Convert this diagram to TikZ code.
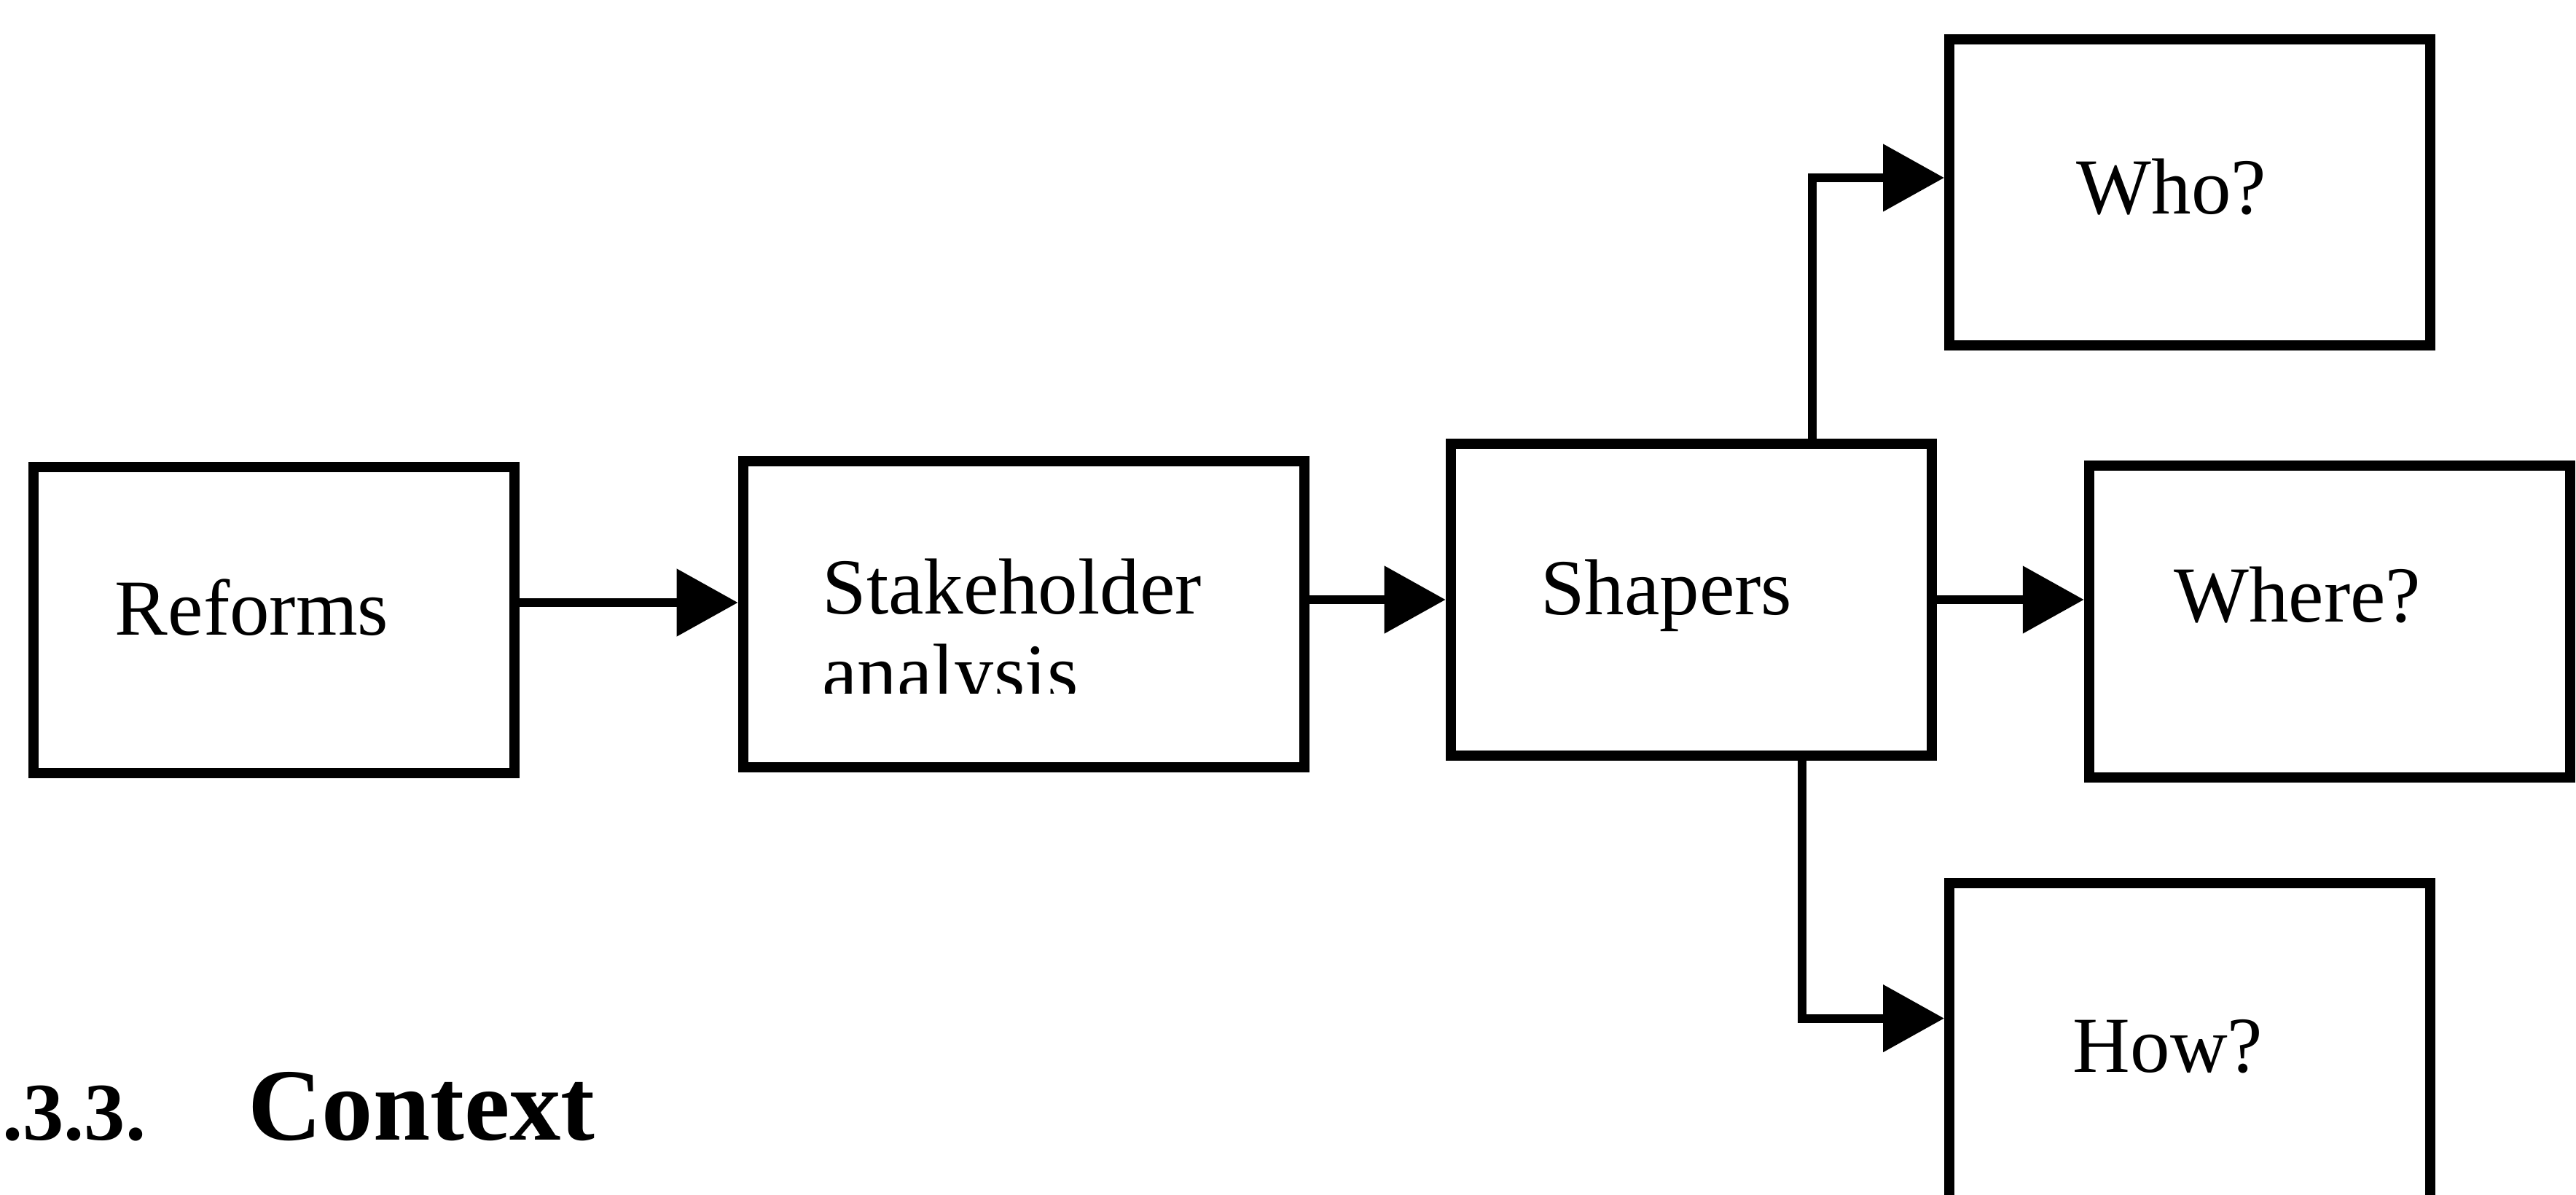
\documentclass[tikz,border=0pt]{standalone}
\usepackage{fontspec}
\setmainfont{Liberation Serif}
\usepackage{tikz}
\usetikzlibrary{arrows.meta,positioning}

\begin{document}
\begin{tikzpicture}[
  box/.style={draw,line width=2pt,minimum width=3.3cm,minimum height=2.1cm,
    text height=3mm,text depth=1mm,font=\fontsize{15.5}{18}\selectfont},
  lshift/.style={execute at end node={\hspace{#1}}},
  arr/.style={-{Triangle[length=4.2mm,width=4.5mm]},line width=1.7pt},
  node distance=1cm,
]
  \useasboundingbox (0,0) rectangle (17.675,8.195);
  \node[box,lshift=3mm] (reforms) at (1.878,3.94) {Reforms};
  \node[box,minimum width=3.85cm,right=1.5cm of reforms,yshift=0.4mm] (stake) {};
  \node[box,lshift=3.4mm,minimum height=2.14cm,right=0.935cm of stake,yshift=1mm] (shapers) {Shapers};
  \node[box,lshift=4.4mm,minimum height=2.14cm,text height=2mm,text depth=2mm,
    right=1.01cm of shapers,yshift=-1.5mm] (where) {Where?};
  \node[box,lshift=2.5mm,text depth=0mm] (who) at (15.025,6.875) {Who?};
  \node[box,lshift=3mm,minimum height=2.4cm] (how) at (15.025,0.937) {How?};
  % second line runs out of the frame
  \begin{scope}
    \clip (stake.west |- 0,3.44) rectangle (stake.north east);
    \node[anchor=north west,inner sep=0,align=left,font=\fontsize{15.5}{16.6}\selectfont]
      (stakelbl) at (5.635,4.368) {Stakeholder\\analysis};
  \end{scope}
  \coordinate (r1) at ([yshift=1.2mm]reforms.east);
  \draw[arr] (r1) -- (r1 -| stake.west);
  \draw[arr] (stake.east |- shapers.west) -- (shapers.west);
  \draw[arr] (shapers.east) -- (shapers.east -| where.west);
  \draw[arr] ([xshift=8.3mm]shapers.north) |- ([yshift=1mm]who.west);
  \draw[arr] ([xshift=7.6mm]shapers.south) |- ([yshift=2.7mm]how.west);
  \node[anchor=base west,inner sep=0,font=\bfseries] (sec) at (0.01,0.375)
    {\fontsize{16}{19}\selectfont .3.3.\hspace{0.7cm}\fontsize{20}{24}\selectfont Context};
\end{tikzpicture}
\end{document}
